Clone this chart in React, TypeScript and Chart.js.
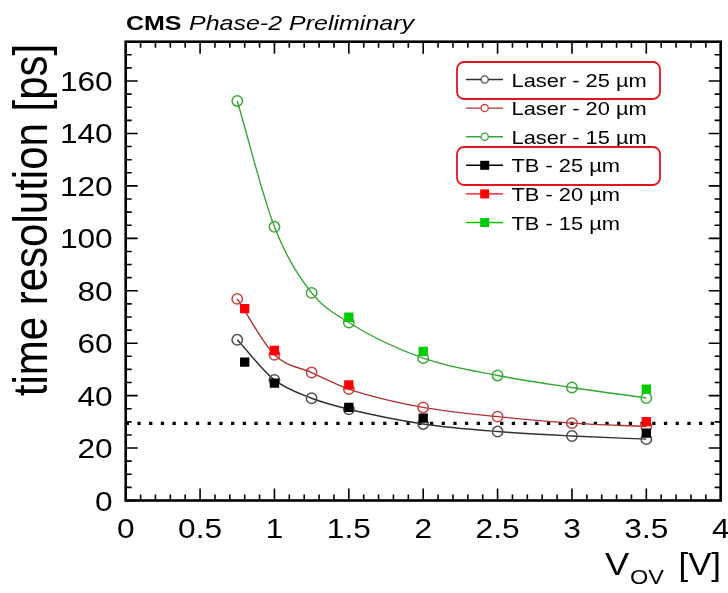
import React, { useEffect, useRef } from "react";
import { Chart, registerables } from "chart.js";

Chart.register(...registerables);

// ---------------- data ----------------
const laserV = [0.75, 1.0, 1.25, 1.5, 2.0, 2.5, 3.0, 3.5];
const laser25 = [61.3, 46.0, 39.0, 34.8, 29.2, 26.3, 24.6, 23.4];
const laser20 = [76.9, 55.6, 48.8, 42.5, 35.5, 32.0, 29.5, 28.2];
const laser15 = [152.4, 104.4, 79.2, 67.9, 54.3, 47.7, 43.1, 39.1];

const tb25V = [0.8, 1.0, 1.5, 2.0, 3.5];
const tb25 = [52.8, 44.8, 35.5, 31.4, 25.7];
const tb20V = [0.8, 1.0, 1.5, 3.5];
const tb20 = [73.2, 57.2, 44.1, 30.1];
const tb15V = [1.5, 2.0, 3.5];
const tb15 = [69.9, 56.9, 42.5];

const targetLine = 29.4;

const xTickValues = [0, 0.5, 1, 1.5, 2, 2.5, 3, 3.5, 4];
const xTickLabels = ["0", "0.5", "1", "1.5", "2", "2.5", "3", "3.5", "4"];
const yTickValues = [0, 20, 40, 60, 80, 100, 120, 140, 160];
const yTickLabels = ["0", "20", "40", "60", "80", "100", "120", "140", "160"];

const seriesLabels = [
  "Laser - 25 µm",
  "Laser - 20 µm",
  "Laser - 15 µm",
  "TB - 25 µm",
  "TB - 20 µm",
  "TB - 15 µm",
];

const pts = (xs: number[], ys: number[]) => xs.map((x, i) => ({ x, y: ys[i] }));

const FONT = "'Liberation Sans', Arial, Helvetica, sans-serif";
const SX = 1.13; // horizontal stretch of the reference text

function txt(
  ctx: CanvasRenderingContext2D,
  s: string,
  x: number,
  y: number,
  font: string,
  align: CanvasTextAlign,
  baseline: CanvasTextBaseline = "alphabetic",
  sx = SX
) {
  ctx.save();
  ctx.translate(x, y);
  ctx.scale(sx, 1);
  ctx.font = font;
  ctx.textAlign = align;
  ctx.textBaseline = baseline;
  ctx.fillStyle = "#000";
  ctx.fillText(s, 0, 0);
  ctx.restore();
}

const framePlugin = {
  id: "rootFrame",
  afterDraw(chart: any) {
    const ctx: CanvasRenderingContext2D = chart.ctx;
    const { left, right, top, bottom } = chart.chartArea;
    const xs = chart.scales.x;
    const ys = chart.scales.y;
    ctx.save();

    // ticks (inside, all four sides)
    ctx.strokeStyle = "#000";
    ctx.lineWidth = 1.6;
    ctx.beginPath();
    for (let i = 0; i <= 40; i++) {
      const v = i / 10;
      const px = xs.getPixelForValue(v);
      const len = i % 5 === 0 ? 12 : 6;
      ctx.moveTo(px, bottom);
      ctx.lineTo(px, bottom - len);
      ctx.moveTo(px, top);
      ctx.lineTo(px, top + len);
    }
    for (let v = 0; v <= 175; v += 5) {
      const py = ys.getPixelForValue(v);
      const len = v % 20 === 0 ? 12 : 6;
      ctx.moveTo(left, py);
      ctx.lineTo(left + len, py);
      ctx.moveTo(right, py);
      ctx.lineTo(right - len, py);
    }
    ctx.stroke();

    // frame
    ctx.lineWidth = 2.6;
    ctx.strokeRect(left, top, right - left, bottom - top);

    // tick labels
    const tickFont = `28px ${FONT}`;
    xTickValues.forEach((v, i) => {
      txt(ctx, xTickLabels[i], xs.getPixelForValue(v), bottom + 37, tickFont, "center");
    });
    yTickValues.forEach((v, i) => {
      txt(ctx, yTickLabels[i], left - 13, ys.getPixelForValue(v) + 10, tickFont, "right");
    });

    // axis titles
    ctx.save();
    ctx.translate(34, 220);
    ctx.rotate(-Math.PI / 2);
    ctx.scale(1, SX);
    ctx.font = `42px ${FONT}`;
    ctx.textAlign = "center";
    ctx.textBaseline = "middle";
    ctx.fillStyle = "#000";
    ctx.fillText("time resolution [ps]", 0, 0);
    ctx.restore();

    txt(ctx, "V", 605, 575, `31px ${FONT}`, "left", "alphabetic", 1.17);
    txt(ctx, "OV", 630, 584, `21px ${FONT}`, "left", "alphabetic", 1.12);
    txt(ctx, "[V]", 721, 575, `31px ${FONT}`, "right", "alphabetic", 1.12);

    // header
    txt(ctx, "CMS", 126, 30, `bold 21px ${FONT}`, "left", "alphabetic", 1.19);
    txt(ctx, "Phase-2 Preliminary", 189, 30, `italic 21px ${FONT}`, "left", "alphabetic", 1.19);

    // legend
    for (let i = 0; i < 6; i++) {
      const d = chart.data.datasets.find((q: any) => q.label === seriesLabels[i]);
      const cy = 79.5 + i * 28.6;
      ctx.strokeStyle = d.borderColor;
      ctx.lineWidth = 1.4;
      ctx.beginPath();
      ctx.moveTo(466, cy);
      ctx.lineTo(503, cy);
      ctx.stroke();
      if (d.pointStyle === "rect") {
        ctx.fillStyle = d.pointBackgroundColor;
        ctx.fillRect(484.7 - 4.5, cy - 4.5, 9, 9);
      } else {
        ctx.fillStyle = "#fff";
        ctx.strokeStyle = d.pointBorderColor;
        ctx.lineWidth = 1.3;
        ctx.beginPath();
        ctx.arc(484.7, cy, 3.6, 0, Math.PI * 2);
        ctx.fill();
        ctx.stroke();
      }
      txt(ctx, seriesLabels[i], 511.5, cy + 7, `19px ${FONT}`, "left", "alphabetic", 1.15);
    }

    // red highlight boxes
    ctx.strokeStyle = "#e3141c";
    ctx.lineWidth = 1.8;
    ctx.beginPath();
    (ctx as any).roundRect(457, 62, 203, 37, 7);
    ctx.stroke();
    ctx.beginPath();
    (ctx as any).roundRect(457, 147, 203, 38, 7);
    ctx.stroke();

    ctx.restore();
  },
};

export default function App() {
  const ref = useRef<HTMLCanvasElement | null>(null);

  useEffect(() => {
    if (!ref.current) return;
    const laserStyle = (color: string, lineColor: string) => ({
      borderColor: lineColor,
      borderWidth: 1.4,
      pointStyle: "circle",
      pointRadius: 5.2,
      pointBorderWidth: 1.5,
      pointBorderColor: color,
      pointBackgroundColor: "rgba(255,255,255,0)",
      showLine: true,
      cubicInterpolationMode: "monotone",
      order: 2,
    });
    const tbStyle = (color: string) => ({
      borderColor: color,
      backgroundColor: color,
      pointStyle: "rect",
      pointRadius: 6.6,
      pointBorderWidth: 0,
      pointBorderColor: color,
      pointBackgroundColor: color,
      showLine: false,
      order: 1,
    });

    const chart = new Chart(ref.current, {
      type: "line",
      data: {
        datasets: [
          { label: seriesLabels[0], data: pts(laserV, laser25), ...laserStyle("#505050", "#303030") },
          { label: seriesLabels[1], data: pts(laserV, laser20), ...laserStyle("#c44545", "#b03333") },
          { label: seriesLabels[2], data: pts(laserV, laser15), ...laserStyle("#3aa83a", "#33a633") },
          { label: seriesLabels[3], data: pts(tb25V, tb25), ...tbStyle("#000000") },
          { label: seriesLabels[4], data: pts(tb20V, tb20), ...tbStyle("#ff0000") },
          { label: seriesLabels[5], data: pts(tb15V, tb15), ...tbStyle("#00cc00") },
          {
            label: "target",
            data: [
              { x: 0, y: targetLine },
              { x: 4, y: targetLine },
            ],
            borderColor: "#000",
            borderWidth: 3.3,
            borderDash: [3.3, 8.4],
            pointRadius: 0,
            order: 3,
          },
        ] as any,
      },
      options: {
        animation: false,
        responsive: false,
        devicePixelRatio: 1,
        layout: { padding: { left: 125.7, right: 7.3, top: 41.7, bottom: 92.5 } },
        scales: {
          x: { type: "linear", min: 0, max: 4, display: false },
          y: { type: "linear", min: 0, max: 175, display: false },
        },
        plugins: {
          legend: { display: false },
          tooltip: { enabled: false },
        },
      },
      plugins: [framePlugin],
    });
    return () => chart.destroy();
  }, []);

  return (
    <div style={{ position: "fixed", left: 0, top: 0, width: 728, height: 593, background: "#fff" }}>
      <canvas ref={ref} width={728} height={593} style={{ display: "block" }} />
    </div>
  );
}
